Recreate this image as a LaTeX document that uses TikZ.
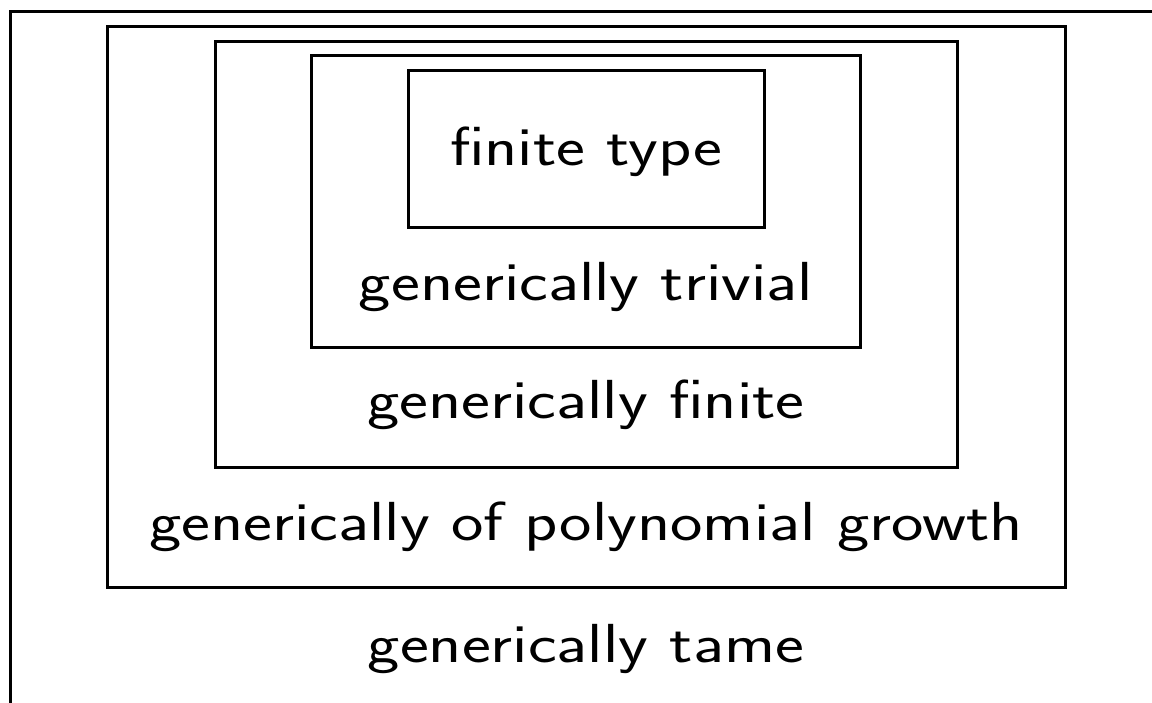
\documentclass[tikz,border=0pt]{standalone}
\usepackage{fontspec}
\newfontfamily\widesans{Latin Modern Sans}[FakeStretch=1.25]
\begin{document}
\begin{tikzpicture}[x=1pt,y=-1pt,
  frame/.style={draw=black,line width=3pt},
  lbl/.style={anchor=base,inner sep=0pt,font=\widesans\fontsize{55}{66}\selectfont}]
\useasboundingbox (0,0) rectangle (1152,702);
\clip (0,0) rectangle (1152,702);
\draw[frame] (10,11) rectangle (1170,720);
\draw[frame] (107,26) rectangle (1065,587);
\draw[frame] (215,41) rectangle (957,467);
\draw[frame] (311,55) rectangle (860,347);
\draw[frame] (408,70) rectangle (764,227);
\node[lbl] (ft) at (586,165) {finite type};
\node[lbl] (gtr) at (586,300) {generically trivial};
\node[lbl] (gf) at (586,418) {generically finite};
\node[lbl] (gp) at (586,540) {generically of polynomial growth};
\node[lbl] (gt) at (586,662) {generically tame};
\end{tikzpicture}
\end{document}
